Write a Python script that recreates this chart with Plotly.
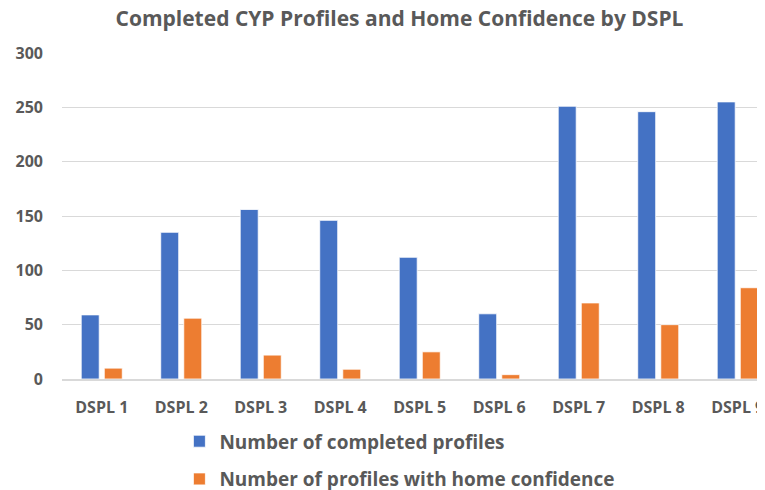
import plotly.graph_objects as go

categories = ["DSPL 1", "DSPL 2", "DSPL 3", "DSPL 4", "DSPL 5", "DSPL 6", "DSPL 7", "DSPL 8", "DSPL 9"]
completed = [59, 135, 156, 146, 112, 60, 251, 246, 255]
home_conf = [10, 56, 22, 9, 25, 4, 70, 50, 84]
y_ticks = [0, 50, 100, 150, 200, 250, 300]

FONT = "Open Sans"
GREY = "#595959"

fig = go.Figure()
fig.add_trace(go.Bar(
    x=categories, y=completed, name="Number of completed profiles",
    marker=dict(color="#4472C4", line=dict(color="#FFFFFF", width=0.8)),
    legendgroup="a",
))
fig.add_trace(go.Bar(
    x=categories, y=home_conf, name="Number of profiles with home confidence",
    marker=dict(color="#ED7D31", line=dict(color="#FFFFFF", width=0.8)),
    legendgroup="b",
))

# page body has an 8px default margin, so the figure is sized to fit the window
W, H = 757, 482
ml, mr, mt, mb = 54, 0, 45, 111

fig.update_layout(
    width=W, height=H,
    margin=dict(l=ml, r=mr, t=mt, b=mb, pad=0, autoexpand=False),
    paper_bgcolor="white", plot_bgcolor="white",
    barmode="group", bargap=0.42, bargroupgap=0.22,
    title=dict(
        text="<b>Completed CYP Profiles and Home Confidence by DSPL</b>",
        x=391.5 / W, xanchor="center", xref="container",
        y=1 - 11 / H, yanchor="middle", yref="container",
        font=dict(family=FONT, size=21, color=GREY),
    ),
    font=dict(family=FONT, color=GREY),
    showlegend=True,
    legend=dict(
        orientation="v", x=0.167, xanchor="left", y=-0.133, yanchor="top",
        font=dict(family=FONT, size=19, color=GREY, weight="bold"),
        traceorder="grouped", tracegroupgap=10,
        itemwidth=30, bgcolor="rgba(0,0,0,0)",
    ),
    xaxis=dict(
        range=[-0.5, 8.343], showgrid=False, showline=True,
        linecolor="#D9D9D9", linewidth=1.5, ticks="",
        tickfont=dict(family=FONT, size=16, color=GREY, weight="bold"),
        ticklabelstandoff=13, automargin=False,
    ),
    yaxis=dict(
        range=[0, 300], tickvals=y_ticks, showgrid=True,
        gridcolor="#D9D9D9", gridwidth=1, zeroline=False, showline=False,
        ticks="", tickfont=dict(family=FONT, size=16, color=GREY, weight="bold"),
        ticklabelstandoff=18, automargin=False,
    ),
)

fig.write_html("out.html")
